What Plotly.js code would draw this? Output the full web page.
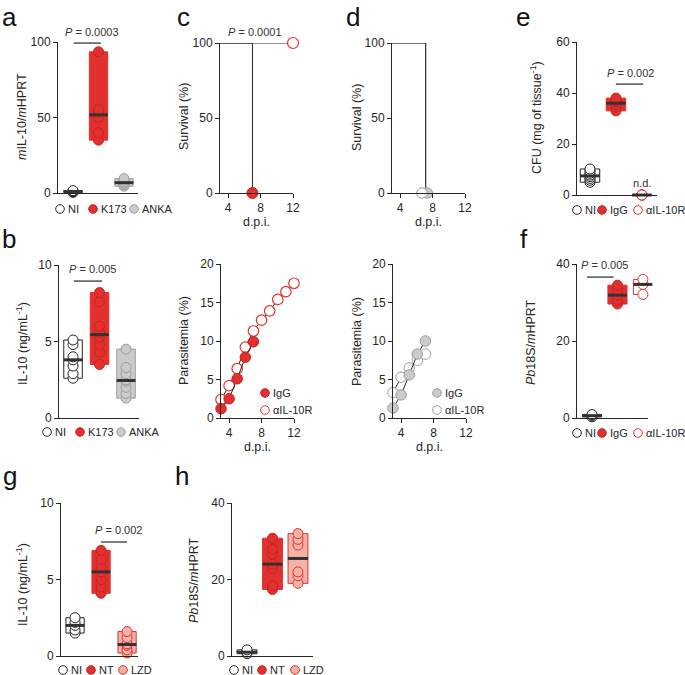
<!DOCTYPE html>
<html><head><meta charset="utf-8">
<script src="https://cdn.plot.ly/plotly-3.0.1.min.js"></script>
<style>html,body{margin:0;padding:0;background:#fff}#chart{width:685px;height:675px}</style>
</head><body><div id="chart"></div>
<script>
// ================= DATA =================
// a: mIL-10/mHPRT
const a_groups = ['NI', 'K173', 'ANKA'];
const a_NI = [0.4, 0.8, 1.0, 1.3, 1.6];
const a_K173 = [35, 40, 50, 53.5, 55, 93.5];
const a_ANKA = [4.5, 5.5, 6.5, 7.2, 8.5, 9.5];
const a_yticks = [0, 50, 100];
// b: IL-10 (ng/mL-1)
const b_groups = ['NI', 'K173', 'ANKA'];
const b_NI = [2.6, 2.9, 3.4, 3.8, 4.0, 4.8, 5.1];
const b_K173 = [3.5, 4.3, 4.8, 5.3, 5.6, 6.0, 7.6, 8.2];
const b_ANKA = [1.3, 1.6, 2.0, 2.4, 2.5, 2.9, 3.3, 4.5];
const b_yticks = [0, 5, 10];
// c: survival + parasitemia
const c_surv_days_IgG = [3, 7];
const c_surv_IgG = [100, 0];
const c_surv_days_aIL = [3, 12];
const c_surv_aIL = [100, 100];
const c_days_IgG = [3, 4, 5, 6, 7];
const c_para_IgG = [1.2, 2.5, 5.1, 7.9, 9.9];
const c_days_aIL = [3, 4, 5, 6, 7, 8, 9, 10, 11, 12];
const c_para_aIL = [2.4, 4.2, 6.4, 9.2, 11.3, 12.7, 13.9, 15.4, 16.4, 17.5];
// d: survival + parasitemia
const d_surv_days_IgG = [3, 7.15];
const d_surv_IgG = [100, 0];
const d_surv_days_aIL = [3, 7.15];
const d_surv_aIL = [100, 0];
const d_death_mark_IgG = [7.35];
const d_death_mark_aIL = [6.7];
const d_days = [3, 4, 5, 6, 7];
const d_para_IgG = [1.3, 3.0, 5.6, 8.3, 10.0];
const d_para_aIL = [3.3, 5.3, 6.5, 7.5, 8.3];
const surv_yticks = [0, 50, 100];
const para_yticks = [0, 5, 10, 15, 20];
const dpi_ticks = [4, 8, 12];
// e: CFU
const e_groups = ['NI', 'IgG', 'αIL-10R'];
const e_NI = [5, 5.8, 6.5, 7.2, 7.8, 8.5, 9.3, 10.2];
const e_IgG = [33, 34.5, 35.5, 36.5, 37, 38];
const e_aIL = [0, 0, 0, 0];
const e_yticks = [0, 20, 40, 60];
// f: Pb18S/mHPRT
const f_groups = ['NI', 'IgG', 'αIL-10R'];
const f_NI = [0.3, 0.6, 0.9];
const f_IgG = [29.6, 30.6, 31.9, 33.2, 34.5];
const f_aIL = [32.1, 34.7, 36];
const f_yticks = [0, 20, 40];
// g: IL-10
const g_groups = ['NI', 'NT', 'LZD'];
const g_NI = [1.5, 1.7, 2.0, 2.2, 2.5];
const g_NT = [4.1, 4.5, 5.0, 5.5, 5.8, 6.3, 6.9];
const g_LZD = [0.2, 0.4, 0.7, 0.8, 1.2, 1.6];
const g_yticks = [0, 5, 10];
// h: Pb18S/mHPRT
const h_groups = ['NI', 'NT', 'LZD'];
const h_NI = [0.6, 1.0, 1.6];
const h_NT = [17.4, 18.3, 22.9, 24, 26.8, 27.9, 30.8];
const h_LZD = [19, 21, 22, 29, 30.5, 32];
const h_yticks = [0, 20, 40];

// ================= STYLE =================
const W = 685, H = 675;
const FONT = '"Liberation Sans", Arial, Helvetica, sans-serif';
const DARK = '#262626';
const RED = '#e2302e', RED_LINE = '#c42423';
const GRAYF = '#cbcbcb', GRAYL = '#9c9c9c';
const PINK = '#f5b3a8';
const ST = {
  NI: {fill: '#ffffff', line: DARK, pt: '#ffffff', ptl: DARK},
  RED: {fill: RED, line: RED, pt: RED, ptl: RED_LINE},
  ANKA: {fill: GRAYF, line: GRAYL, pt: GRAYF, ptl: GRAYL},
  AIL: {fill: '#ffffff', line: RED, pt: '#ffffff', ptl: RED},
  LZD: {fill: PINK, line: RED, pt: PINK, ptl: RED},
  WG: {fill: '#ffffff', line: GRAYL, pt: '#ffffff', ptl: GRAYL}
};
const xdom = (l, r) => [l / W, r / W];
const ydom = (t, b) => [1 - b / H, 1 - t / H];
const median = arr => { const s = [...arr].sort((p, q) => p - q); const n = s.length; return n % 2 ? s[(n - 1) / 2] : (s[n / 2 - 1] + s[n / 2]) / 2; };

const traces = [];
const layout = {
  width: W, height: H, margin: {l: 0, r: 0, t: 0, b: 0},
  paper_bgcolor: '#fff', plot_bgcolor: 'rgba(0,0,0,0)',
  showlegend: false, barmode: 'overlay',
  font: {family: FONT, color: DARK, size: 12},
  annotations: [], shapes: []
};
const TITLE_FONT = {size: 12.5, color: DARK, family: FONT};

function yAxis(n, dom, range, ticks) {
  return {domain: dom, range: range, anchor: 'x' + n, tickvals: ticks, ticks: 'outside', ticklen: 4,
    tickwidth: 1, tickcolor: DARK, showline: true, linecolor: DARK, linewidth: 1, showgrid: false,
    zeroline: false, tickfont: {size: 12, color: DARK, family: FONT}, fixedrange: true};
}
function xCat(n, dom, range) {
  return {domain: dom, range: range, anchor: 'y' + n, showline: true, linecolor: DARK, linewidth: 1,
    ticks: '', showticklabels: false, showgrid: false, zeroline: false, fixedrange: true};
}
function xDpi(n, dom) {
  return {domain: dom, range: [3, 12], anchor: 'y' + n, tickvals: dpi_ticks, ticks: 'outside', ticklen: 4,
    tickwidth: 1, tickcolor: DARK, showline: true, linecolor: DARK, linewidth: 1, showgrid: false,
    zeroline: false, tickfont: {size: 12, color: DARK, family: FONT}, fixedrange: true,
    title: {text: 'd.p.i.', font: TITLE_FONT, standoff: 0}};
}
const axKey = (letter, n) => letter + 'axis' + (n === 1 ? '' : n);
const axRef = (letter, n) => letter + (n === 1 ? '' : n);

// vertical y-axis titles, placed beside each axis
function yTitle(text, cx, cy) {
  layout.annotations.push({xref: 'paper', yref: 'paper', x: cx / W, y: 1 - cy / H, xanchor: 'center', yanchor: 'middle',
    text: text, textangle: -90, showarrow: false, font: TITLE_FONT});
}

function groupPanel(n, groups, datas, styles, barW, medW) {
  const xa = axRef('x', n), ya = axRef('y', n);
  datas.forEach((vals, i) => {
    const st = styles[i];
    const lo = Math.min(...vals), hi = Math.max(...vals);
    traces.push({type: 'bar', x: [i], base: [lo], y: [hi - lo], width: [barW], xaxis: xa, yaxis: ya,
      marker: {color: st.fill, line: {color: st.line, width: 1}}, hoverinfo: 'skip', name: groups[i]});
  });
  datas.forEach((vals, i) => {
    const st = styles[i];
    traces.push({type: 'scatter', mode: 'markers', x: vals.map(() => i), y: vals, xaxis: xa, yaxis: ya,
      cliponaxis: false, marker: {size: 10, color: st.pt, line: {color: st.ptl, width: 1}}, name: groups[i]});
  });
  datas.forEach((vals, i) => {
    traces.push({type: 'scatter', mode: 'markers', x: [i], y: [median(vals)], xaxis: xa, yaxis: ya,
      cliponaxis: false, marker: {symbol: 'line-ew', size: medW, line: {color: '#333', width: 3}}, hoverinfo: 'skip'});
  });
}

// ---- panel a (1)
layout[axKey('x', 1)] = xCat(1, xdom(58, 138), [-0.59, 2.55]);
layout[axKey('y', 1)] = yAxis(1, ydom(42, 193), [0, 100], a_yticks);
yTitle('<i>m</i>IL-10/<i>m</i>HPRT', 22, 117);
groupPanel(1, a_groups, [a_NI, a_K173, a_ANKA], [ST.NI, ST.RED, ST.ANKA], 0.72, 13.5);
// ---- panel b (2)
layout[axKey('x', 2)] = xCat(2, xdom(59, 139), [-0.53, 2.49]);
layout[axKey('y', 2)] = yAxis(2, ydom(265, 418), [0, 10], b_yticks);
yTitle('IL-10 (ng/mL<sup>-1</sup>)', 22, 344);
groupPanel(2, b_groups, [b_NI, b_K173, b_ANKA], [ST.NI, ST.RED, ST.ANKA], 0.7, 13.5);
// ---- panel c survival (3)
layout[axKey('x', 3)] = xDpi(3, xdom(220, 293));
layout[axKey('y', 3)] = yAxis(3, ydom(43, 193), [0, 100], surv_yticks);
yTitle('Survival (%)', 184, 117);
traces.push({type: 'scatter', mode: 'lines', x: c_surv_days_aIL, y: c_surv_aIL, xaxis: 'x3', yaxis: 'y3', cliponaxis: false, line: {color: DARK, width: 1, shape: 'hv'}});
traces.push({type: 'scatter', mode: 'lines', x: c_surv_days_IgG, y: c_surv_IgG, xaxis: 'x3', yaxis: 'y3', cliponaxis: false, line: {color: DARK, width: 1, shape: 'hv'}});
traces.push({type: 'scatter', mode: 'markers', x: c_surv_days_IgG.slice(-1), y: c_surv_IgG.slice(-1), xaxis: 'x3', yaxis: 'y3', cliponaxis: false, marker: {size: 11, color: RED, line: {color: RED_LINE, width: 1}}});
traces.push({type: 'scatter', mode: 'markers', x: c_surv_days_aIL.slice(-1), y: c_surv_aIL.slice(-1), xaxis: 'x3', yaxis: 'y3', cliponaxis: false, marker: {size: 11, color: '#fff', line: {color: RED, width: 1.2}}});
// ---- panel c parasitemia (4)
layout[axKey('x', 4)] = xDpi(4, xdom(221, 294));
layout[axKey('y', 4)] = yAxis(4, ydom(264, 418), [0, 20], para_yticks);
yTitle('Parasitemia (%)', 184, 341);
traces.push({type: 'scatter', mode: 'lines+markers', x: c_days_aIL, y: c_para_aIL, xaxis: 'x4', yaxis: 'y4', cliponaxis: false, line: {color: DARK, width: 1}, marker: {size: 10.5, color: '#fff', line: {color: RED, width: 1.2}}});
traces.push({type: 'scatter', mode: 'lines+markers', x: c_days_IgG, y: c_para_IgG, xaxis: 'x4', yaxis: 'y4', cliponaxis: false, line: {color: DARK, width: 1}, marker: {size: 10.5, color: RED, line: {color: RED_LINE, width: 1}}});
// ---- panel d survival (5)
layout[axKey('x', 5)] = xDpi(5, xdom(392, 465));
layout[axKey('y', 5)] = yAxis(5, ydom(43, 193), [0, 100], surv_yticks);
yTitle('Survival (%)', 357, 118);
traces.push({type: 'scatter', mode: 'lines', x: d_surv_days_IgG, y: d_surv_IgG, xaxis: 'x5', yaxis: 'y5', cliponaxis: false, line: {color: '#8a8a8a', width: 1, shape: 'hv'}});
traces.push({type: 'scatter', mode: 'lines', x: d_surv_days_aIL, y: d_surv_aIL, xaxis: 'x5', yaxis: 'y5', cliponaxis: false, line: {color: DARK, width: 1, shape: 'hv'}});
traces.push({type: 'scatter', mode: 'markers', x: d_death_mark_IgG, y: d_surv_IgG.slice(-1), xaxis: 'x5', yaxis: 'y5', cliponaxis: false, marker: {size: 10.5, color: GRAYF, line: {color: GRAYL, width: 1}}});
traces.push({type: 'scatter', mode: 'markers', x: d_death_mark_aIL, y: d_surv_aIL.slice(-1), xaxis: 'x5', yaxis: 'y5', cliponaxis: false, marker: {size: 10.5, color: '#fff', line: {color: GRAYL, width: 1}}});
// ---- panel d parasitemia (6)
layout[axKey('x', 6)] = xDpi(6, xdom(393, 466));
layout[axKey('y', 6)] = yAxis(6, ydom(264, 418), [0, 20], para_yticks);
yTitle('Parasitemia (%)', 357, 342);
traces.push({type: 'scatter', mode: 'lines+markers', x: d_days, y: d_para_aIL, xaxis: 'x6', yaxis: 'y6', cliponaxis: false, line: {color: DARK, width: 1}, marker: {size: 10.5, color: '#fff', line: {color: GRAYL, width: 1}}});
traces.push({type: 'scatter', mode: 'lines+markers', x: d_days, y: d_para_IgG, xaxis: 'x6', yaxis: 'y6', cliponaxis: false, line: {color: DARK, width: 1}, marker: {size: 10.5, color: GRAYF, line: {color: GRAYL, width: 1}}});
// ---- panel e (7)
layout[axKey('x', 7)] = xCat(7, xdom(577, 657), [-0.5, 2.58]);
layout[axKey('y', 7)] = yAxis(7, ydom(42, 195), [0, 60], e_yticks);
yTitle('CFU (mg of tissue<sup>-1</sup>)', 536, 118);
groupPanel(7, e_groups, [e_NI, e_IgG, e_aIL], [ST.NI, ST.RED, ST.AIL], 0.75, 14);
// ---- panel f (8)
layout[axKey('x', 8)] = xCat(8, xdom(577, 648), [-0.59, 2.2]);
layout[axKey('y', 8)] = yAxis(8, ydom(264, 418), [0, 40], f_yticks);
yTitle('<i>Pb</i>18S/<i>m</i>HPRT', 531, 342);
groupPanel(8, f_groups, [f_NI, f_IgG, f_aIL], [ST.NI, ST.RED, ST.AIL], 0.75, 13.5);
// ---- panel g (9)
layout[axKey('x', 9)] = xCat(9, xdom(61, 138), [-0.54, 2.42]);
layout[axKey('y', 9)] = yAxis(9, ydom(503, 656), [0, 10], g_yticks);
yTitle('IL-10 (ng/mL<sup>-1</sup>)', 22, 585);
groupPanel(9, g_groups, [g_NI, g_NT, g_LZD], [ST.NI, ST.RED, ST.LZD], 0.7, 13.5);
// ---- panel h (10)
layout[axKey('x', 10)] = xCat(10, xdom(232, 313), [-0.59, 2.59]);
layout[axKey('y', 10)] = yAxis(10, ydom(503, 656), [0, 40], h_yticks);
yTitle('<i>Pb</i>18S/<i>m</i>HPRT', 194, 580);
groupPanel(10, h_groups, [h_NI, h_NT, h_LZD], [ST.NI, ST.RED, ST.LZD], 0.78, 14.5);

// ---- significance bars (data coords) & p-values (paper coords)
const PFONT = {size: 11, color: '#333', family: FONT};
function pText(label, cx, cy) {
  layout.annotations.push({xref: 'paper', yref: 'paper', x: cx / W, y: 1 - cy / H, xanchor: 'center', yanchor: 'middle', text: label, showarrow: false, font: PFONT});
}
function sigBar(n, x0, x1, y) {
  layout.shapes.push({type: 'line', xref: axRef('x', n), yref: axRef('y', n), x0: x0, x1: x1, y0: y, y1: y, line: {color: DARK, width: 1.2}});
}
sigBar(1, 0.03, 1.1, 99.3); pText('<i>P</i> = 0.0003', 92, 32);
sigBar(2, 0.03, 1.1, 8.95); pText('<i>P</i> = 0.005', 92, 269);
pText('<i>P</i> = 0.0001', 255, 32);
sigBar(7, 1.0, 2.05, 43.5); pText('<i>P</i> = 0.002', 630, 73);
sigBar(8, -0.2, 0.85, 36.6); pText('<i>P</i> = 0.005', 604, 265);
sigBar(9, 1.0, 2.0, 7.45); pText('<i>P</i> = 0.002', 118, 530);
pText('n.d.', 642, 183);

// ---- panel letters
[['a', 0, 0], ['c', 175, 0], ['d', 344, 0], ['e', 514, 0], ['b', 0, 222], ['f', 518, 222], ['g', 1, 459], ['h', 173, 459]].forEach(([t, x, y]) => {
  layout.annotations.push({xref: 'paper', yref: 'paper', x: x / W, y: 1 - y / H, xanchor: 'left', yanchor: 'top', text: t, showarrow: false, font: {size: 26, color: '#111', family: FONT}});
});

// ---- legends (keys are small circles, labels are text)
function legendRow(cy, items) {
  items.forEach(([cx, st, label]) => {
    layout.shapes.push({type: 'circle', xref: 'paper', yref: 'paper', xsizemode: 'pixel', ysizemode: 'pixel',
      xanchor: cx / W, yanchor: 1 - cy / H, x0: -4.3, x1: 4.3, y0: -4.3, y1: 4.3,
      fillcolor: st.pt, line: {color: st.ptl, width: 1}});
    layout.annotations.push({xref: 'paper', yref: 'paper', x: (cx + 5.5) / W, y: 1 - cy / H, xanchor: 'left', yanchor: 'middle',
      text: label, showarrow: false, font: {size: 11, color: DARK, family: FONT}});
  });
}
legendRow(209, [[60, ST.NI, a_groups[0]], [93, ST.RED, a_groups[1]], [134, ST.ANKA, a_groups[2]]]);
legendRow(432, [[47, ST.NI, b_groups[0]], [80, ST.RED, b_groups[1]], [121, ST.ANKA, b_groups[2]]]);
legendRow(210, [[577, ST.NI, e_groups[0]], [602, ST.RED, e_groups[1]], [638, ST.AIL, e_groups[2]]]);
legendRow(433, [[577, ST.NI, f_groups[0]], [602, ST.RED, f_groups[1]], [638, ST.AIL, f_groups[2]]]);
legendRow(670, [[63, ST.NI, g_groups[0]], [91, ST.RED, g_groups[1]], [123, ST.LZD, g_groups[2]]]);
legendRow(670, [[234, ST.NI, h_groups[0]], [262, ST.RED, h_groups[1]], [295, ST.LZD, h_groups[2]]]);
legendRow(393, [[265, ST.RED, 'IgG']]);
legendRow(410, [[265, ST.AIL, 'αIL-10R']]);
legendRow(393, [[437, ST.ANKA, 'IgG']]);
legendRow(410, [[437, ST.WG, 'αIL-10R']]);

traces.forEach(t => { t.showlegend = false; if (!t.hoverinfo) t.hoverinfo = 'x+y'; });
Plotly.newPlot('chart', traces, layout, {staticPlot: true, displayModeBar: false});
</script>
</body></html>
